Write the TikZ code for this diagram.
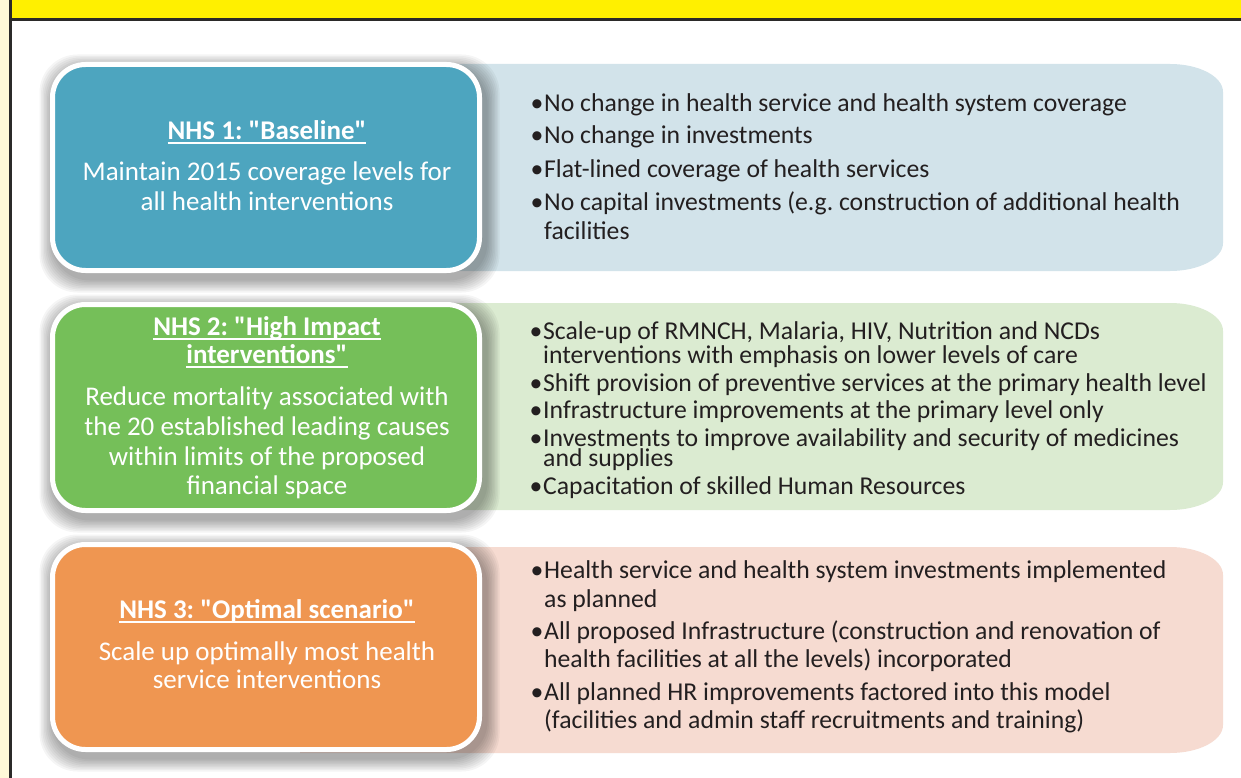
\documentclass[tikz,border=0pt]{standalone}
\usepackage{fontspec}
\setmainfont{Carlito}[Ligatures=TeXOff]
\frenchspacing
\definecolor{bluebox}{HTML}{4DA5BF}
\definecolor{greenbox}{HTML}{75BF59}
\definecolor{orangebox}{HTML}{EF9651}
\definecolor{bluepanel}{HTML}{D2E3EA}
\definecolor{greenpanel}{HTML}{DBEBD1}
\definecolor{pinkpanel}{HTML}{F6DBD1}
\definecolor{bannercol}{HTML}{FFF000}
\definecolor{creamcol}{HTML}{FFF9D8}
\definecolor{darkline}{HTML}{2B2A29}
\definecolor{txtcol}{HTML}{231F20}
\newcommand\myul[1]{\setbox0\hbox{#1}\rlap{\rule[-4.5pt]{\wd0}{2pt}}\box0}
\newcommand\bul{\makebox[13.5pt][l]{•}}
\newcommand\cont{\hspace*{13.5pt}}
\newcommand\panelshape[3]{%
  \fill[#1] (300,#2) -- (1170,#2) arc[start angle=-90,end angle=0,x radius=53,y radius=28]
    -- (1223,{#3-28}) arc[start angle=0,end angle=90,x radius=53,y radius=28] -- (300,#3) -- cycle;}
\newcommand\boxshadow[2]{%
  \foreach \i in {1,...,9} {
    \fill[black, opacity=0.04, rounded corners=38pt]
      ({53-\i*1.5},{#1+6-\i*1.5}) rectangle ({486+\i*1.5},{#2+6+\i*1.5});
  }}
\tikzset{
  panelbox/.style={draw=white, line width=5pt, rounded corners=33pt},
  ptxt/.style={anchor=base west, text=txtcol, font=\fontsize{25.7}{28}\selectfont, inner sep=0pt},
  btxt/.style={anchor=base, text=white, font=\fontsize{27}{30}\selectfont, inner sep=0pt},
  bttl/.style={anchor=base, text=white, font=\fontsize{27}{30}\selectfont\bfseries, inner sep=0pt}
}
\begin{document}
\begin{tikzpicture}[x=1pt, y=-1pt]
\useasboundingbox (0,0) rectangle (1241,778);
\fill[white] (0,0) rectangle (1241,778);
\fill[creamcol] (0,0) rectangle (9,778);
\fill[darkline] (9,0) rectangle (12,778);
\fill[bannercol] (12,0) rectangle (1241,18);
\fill[darkline] (12,18) rectangle (1241,21);

% right panels
\panelshape{bluepanel}{64}{271}
\panelshape{greenpanel}{303}{510}
\panelshape{pinkpanel}{547}{753}

% shadows
\boxshadow{62}{273}
\boxshadow{302}{513}
\boxshadow{542}{752}

% boxes
\node[panelbox, fill=bluebox, minimum width=427pt, minimum height=206pt, inner sep=0pt] (b1) at (266,167.5) {};
\node[panelbox, fill=greenbox, minimum width=427pt, minimum height=206pt, inner sep=0pt] (b2) at (266,407.5) {};
\node[panelbox, fill=orangebox, minimum width=427pt, minimum height=205pt, inner sep=0pt] (b3) at (266,647) {};

% box texts
\node[bttl] (t1) at (267,140) {\myul{NHS 1: "Baseline"}};
\node[btxt] (t1a) at (267,181) {Maintain 2015 coverage levels for};
\node[btxt] (t1b) at (267,211) {all health interventions};

\node[bttl] (t2) at (267,335) {\myul{NHS 2: "High Impact}};
\node[bttl] (t2x) at (267,363) {\myul{interventions"}};
\node[btxt] (t2a) at (267,405) {Reduce mortality associated with};
\node[btxt] (t2b) at (267,435) {the 20 established leading causes};
\node[btxt] (t2c) at (267,465) {within limits of the proposed};
\node[btxt] (t2d) at (267,494) {financial space};

\node[bttl] (t3) at (267,618) {\myul{NHS 3: "Optimal scenario"}};
\node[btxt] (t3a) at (267,660) {Scale up optimally most health};
\node[btxt] (t3b) at (267,688) {service interventions};

% panel 1 texts
\node[ptxt] (p1a) at (530.5,112) {\bul No change in health service and health system coverage};
\node[ptxt] (p1b) at (530.5,144) {\bul No change in investments};
\node[ptxt] (p1c) at (530.5,178) {\bul Flat-lined coverage of health services};
\node[ptxt] (p1d) at (530.5,211) {\bul No capital investments (e.g. construction of additional health};
\node[ptxt] (p1e) at (530.5,239) {\cont facilities};

% panel 2 texts
\node[ptxt] (p2a) at (529.5,339) {\bul Scale-up of RMNCH, Malaria, HIV, Nutrition and NCDs};
\node[ptxt] (p2b) at (529.5,363) {\cont interventions with emphasis on lower levels of care};
\node[ptxt] (p2c) at (529.5,391) {\bul Shift provision of preventive services at the primary health level};
\node[ptxt] (p2d) at (529.5,418) {\bul Infrastructure improvements at the primary level only};
\node[ptxt] (p2e) at (529.5,446) {\bul Investments to improve availability and security of medicines};
\node[ptxt] (p2f) at (529.5,466) {\cont and supplies};
\node[ptxt] (p2g) at (529.5,494) {\bul Capacitation of skilled Human Resources};

% panel 3 texts
\node[ptxt] (p3a) at (530.5,578) {\bul Health service and health system investments implemented};
\node[ptxt] (p3b) at (530.5,607) {\cont as planned};
\node[ptxt] (p3c) at (530.5,639) {\bul All proposed Infrastructure (construction and renovation of};
\node[ptxt] (p3d) at (530.5,667) {\cont health facilities at all the levels) incorporated};
\node[ptxt] (p3e) at (530.5,700) {\bul All planned HR improvements factored into this model};
\node[ptxt] (p3f) at (530.5,728) {\cont (facilities and admin staff recruitments and training)};
\end{tikzpicture}
\end{document}
